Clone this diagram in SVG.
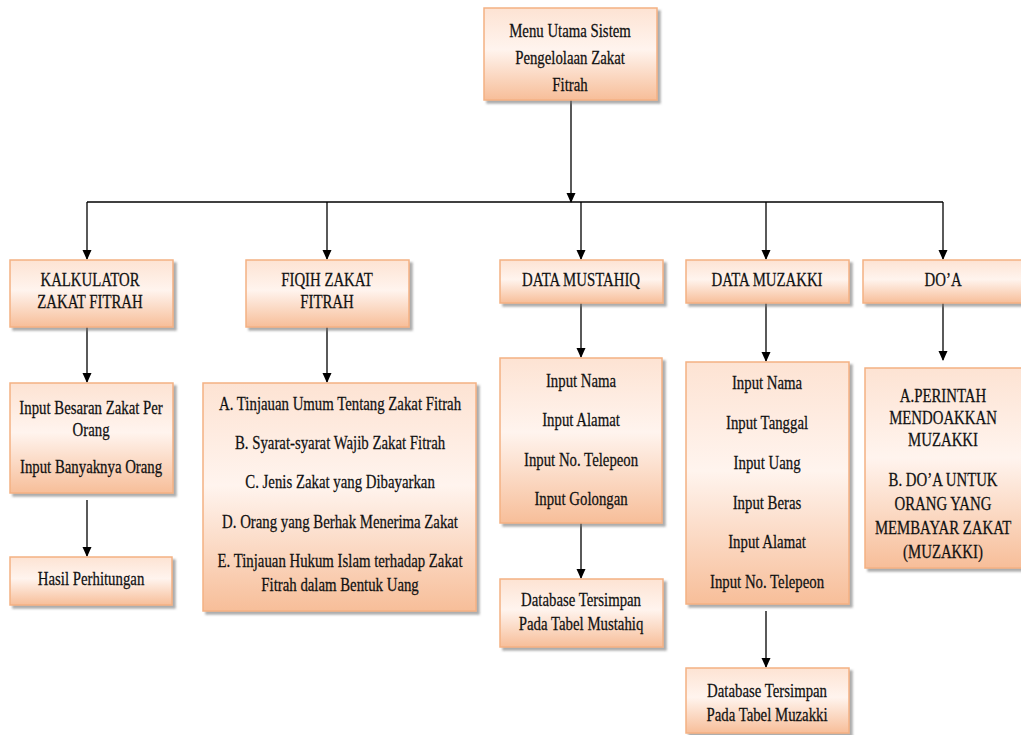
<svg xmlns="http://www.w3.org/2000/svg" width="1021" height="735" viewBox="0 0 1021 735">
<style>
.box{fill:url(#g);stroke:#f4b183;stroke-width:1.5;filter:url(#sh)}
.t{font-family:"Liberation Serif","Times New Roman",serif;font-size:19px;fill:#111;stroke:#111;stroke-width:0.25;text-anchor:middle;transform-box:fill-box;transform-origin:center;transform:scaleX(0.78)}
.c{stroke:#000;stroke-width:1.3;fill:none}
</style>
<defs>
<linearGradient id="g" x1="0" y1="0" x2="0" y2="1">
<stop offset="0" stop-color="#fde3d3"/>
<stop offset="0.45" stop-color="#fff4ee"/>
<stop offset="1" stop-color="#f7be99"/>
</linearGradient>
<filter id="sh" x="-10%" y="-10%" width="130%" height="130%">
<feDropShadow dx="3" dy="3" stdDeviation="1" flood-color="#777" flood-opacity="0.6"/>
</filter>
<marker id="a" markerWidth="10" markerHeight="10" refX="9" refY="5" orient="auto" markerUnits="userSpaceOnUse">
<path d="M0,0.5 L10,5 L0,9.5 z" fill="#000"/>
</marker>
</defs>
<rect width="1021" height="735" fill="#fff"/>
<g id="connectors">
<path class="c" d="M571,100 V202" marker-end="url(#a)"/>
<path class="c" d="M87,202 H943"/>
<path class="c" d="M87,202 V259" marker-end="url(#a)"/>
<path class="c" d="M327,202 V259" marker-end="url(#a)"/>
<path class="c" d="M581,202 V259" marker-end="url(#a)"/>
<path class="c" d="M766,202 V259" marker-end="url(#a)"/>
<path class="c" d="M943,202 V259" marker-end="url(#a)"/>
<path class="c" d="M87,327 V382" marker-end="url(#a)"/>
<path class="c" d="M87,500 V556" marker-end="url(#a)"/>
<path class="c" d="M327,327 V382" marker-end="url(#a)"/>
<path class="c" d="M581,303 V357" marker-end="url(#a)"/>
<path class="c" d="M581,523 V578" marker-end="url(#a)"/>
<path class="c" d="M766,303 V361" marker-end="url(#a)"/>
<path class="c" d="M766,611 V667" marker-end="url(#a)"/>
<path class="c" d="M943,303 V360" marker-end="url(#a)"/>
</g>
<g id="menu">
<rect class="box" x="484" y="8" width="173" height="92"/>
<text class="t" x="570" y="37">Menu Utama Sistem</text>
<text class="t" x="570" y="64">Pengelolaan Zakat</text>
<text class="t" x="570" y="91">Fitrah</text>
</g>
<g id="kalkulator">
<rect class="box" x="10" y="260" width="163" height="67"/>
<text class="t" x="90" y="286">KALKULATOR</text>
<text class="t" x="90" y="308">ZAKAT FITRAH</text>
</g>
<g id="fiqih">
<rect class="box" x="246" y="260" width="163" height="67"/>
<text class="t" x="327" y="286">FIQIH ZAKAT</text>
<text class="t" x="327" y="308">FITRAH</text>
</g>
<g id="mustahiq">
<rect class="box" x="500" y="260" width="163" height="43"/>
<text class="t" x="581" y="286">DATA MUSTAHIQ</text>
</g>
<g id="muzakki">
<rect class="box" x="686" y="260" width="163" height="43"/>
<text class="t" x="767" y="286">DATA MUZAKKI</text>
</g>
<g id="doa">
<rect class="box" x="863" y="260" width="162" height="43"/>
<text class="t" x="943" y="286">DO’A</text>
</g>
<g id="kalk-input">
<rect class="box" x="10" y="383" width="163" height="110"/>
<text class="t" x="91" y="414">Input Besaran Zakat Per</text>
<text class="t" x="91" y="436">Orang</text>
<text class="t" x="91" y="473">Input Banyaknya Orang</text>
</g>
<g id="hasil">
<rect class="box" x="10" y="557" width="162" height="48"/>
<text class="t" x="91" y="585">Hasil Perhitungan</text>
</g>
<g id="fiqih-list">
<rect class="box" x="203" y="383" width="273" height="228"/>
<text class="t" x="340" y="410">A. Tinjauan Umum Tentang Zakat Fitrah</text>
<text class="t" x="340" y="449">B. Syarat-syarat Wajib Zakat Fitrah</text>
<text class="t" x="340" y="488">C. Jenis Zakat yang Dibayarkan</text>
<text class="t" x="340" y="528">D. Orang yang Berhak Menerima Zakat</text>
<text class="t" x="340" y="567">E. Tinjauan Hukum Islam terhadap Zakat</text>
<text class="t" x="340" y="591">Fitrah dalam Bentuk Uang</text>
</g>
<g id="mustahiq-input">
<rect class="box" x="500" y="358" width="162" height="165"/>
<text class="t" x="581" y="387">Input Nama</text>
<text class="t" x="581" y="426">Input Alamat</text>
<text class="t" x="581" y="466">Input No. Telepeon</text>
<text class="t" x="581" y="505">Input Golongan</text>
</g>
<g id="mustahiq-db">
<rect class="box" x="500" y="579" width="163" height="68"/>
<text class="t" x="581" y="606">Database Tersimpan</text>
<text class="t" x="581" y="630">Pada Tabel Mustahiq</text>
</g>
<g id="muzakki-input">
<rect class="box" x="686" y="362" width="163" height="242"/>
<text class="t" x="767" y="389">Input Nama</text>
<text class="t" x="767" y="429">Input Tanggal</text>
<text class="t" x="767" y="469">Input Uang</text>
<text class="t" x="767" y="509">Input Beras</text>
<text class="t" x="767" y="548">Input Alamat</text>
<text class="t" x="767" y="588">Input No. Telepeon</text>
</g>
<g id="muzakki-db">
<rect class="box" x="686" y="668" width="163" height="65"/>
<text class="t" x="767" y="697">Database Tersimpan</text>
<text class="t" x="767" y="721">Pada Tabel Muzakki</text>
</g>
<g id="doa-list">
<rect class="box" x="865" y="368" width="160" height="200"/>
<text class="t" x="943" y="402">A.PERINTAH</text>
<text class="t" x="943" y="424">MENDOAKKAN</text>
<text class="t" x="943" y="446">MUZAKKI</text>
<text class="t" x="943" y="486">B. DO’A UNTUK</text>
<text class="t" x="943" y="510">ORANG YANG</text>
<text class="t" x="943" y="534">MEMBAYAR ZAKAT</text>
<text class="t" x="943" y="558">(MUZAKKI)</text>
</g>
</svg>
